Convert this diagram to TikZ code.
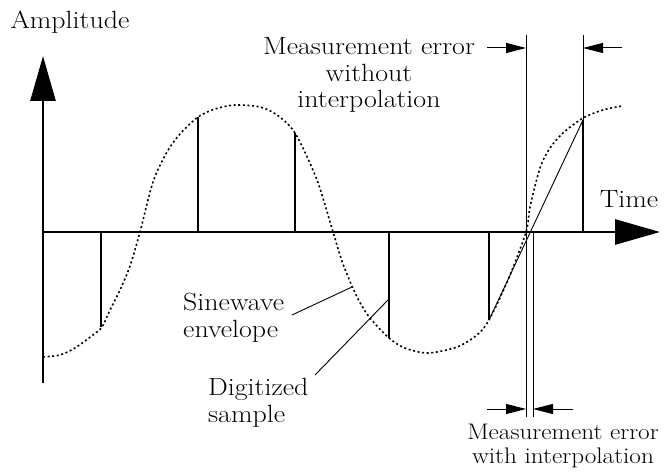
\documentclass[tikz,border=0pt]{standalone}
\usepackage{fontspec}
\setmainfont{Latin Modern Roman}[FakeStretch=1.12]
\usetikzlibrary{arrows.meta}
\begin{document}
\begin{tikzpicture}[x=1bp,y=-1bp,
  axis/.style={line width=2.8bp,-{Triangle[length=45bp,width=25bp]}},
  sample/.style={line width=2.4bp},
  thinline/.style={line width=0.9bp},
  envelope/.style={line width=1.6bp,dash pattern=on 2bp off 2.6bp},
  marker/.style={line width=1bp,-{Triangle[length=20bp,width=10bp]}},
  lbl/.style={inner sep=0pt,font=\fontsize{25}{27}\selectfont},
  smalllbl/.style={inner sep=0pt,font=\fontsize{22.6}{24}\selectfont}]
\useasboundingbox (0,0) rectangle (664,474);
% axes
\coordinate (Ybot) at (43,383);
\coordinate (Ytop) at (43,56);
\coordinate (O) at (43,232);
\coordinate (Xend) at (660,232);
\draw[axis] (Ybot) -- (Ytop);
\draw[axis] (O) -- (Xend);
% samples
\foreach \n/\x/\y in {1/101/327,2/198/117,3/295/133,4/389/338,5/489/320,6/583/120}{
  \coordinate (b\n) at (\x,232);
  \coordinate (t\n) at (\x,\y);
  \draw[sample] (b\n) -- (t\n);
}
% envelope
\draw[envelope] plot[smooth,tension=0.5] coordinates {
 (43,357) (60,355) (75,348) (93,335) (102,327) (110,310) (120,290) (130,266) (140,232)
 (153,182) (167,152) (180,134) (198,117) (215,109) (235,105) (260,107)
 (277,115) (295,133) (317,180) (333,232) (343,264) (357,297) (370,318)
 (389,338) (405,348) (428,353) (457,347) (477,335) (489,320) (508,280)
 (526,232) (530,207) (540,168) (550,148) (563,133) (583,118) (603,110) (622,106)};
% interpolation line
\coordinate (ix) at (533,232);
\draw[thinline] (t5) -- (t6);
% measurement lines
\coordinate (m1top) at (526,35);
\coordinate (m1bot) at (526,417);
\coordinate (m2bot) at (533,417);
\coordinate (m3top) at (583,35);
\draw[thinline] (m1top) -- (m1bot);
\draw[thinline] (ix) -- (m2bot);
\draw[thinline] (m3top) -- (b6);
% marker arrows
\coordinate (a1s) at (487,48);
\coordinate (a1e) at (526,48);
\coordinate (a2s) at (622,48);
\coordinate (a2e) at (583,48);
\coordinate (a3s) at (487,409);
\coordinate (a3e) at (526,409);
\coordinate (a4s) at (573,409);
\coordinate (a4e) at (533,409);
\draw[marker] (a1s) -- (a1e);
\draw[marker] (a2s) -- (a2e);
\draw[marker] (a3s) -- (a3e);
\draw[marker] (a4s) -- (a4e);
% labels
\node[lbl] (amp) at (70,22) {Amplitude};
\node[lbl] (time) at (629,199) {Time};
\node[lbl,align=center] (mwo) at (369,75) {Measurement error\\without\\interpolation};
\node[smalllbl,align=center] (mwi) at (563,446) {Measurement error\\with interpolation};
\node[lbl,align=left,anchor=west] (sine) at (183,318) {Sinewave\\envelope};
\node[lbl,align=left,anchor=west] (dig) at (208,403) {Digitized\\sample};
% leaders
\coordinate (ss) at (292,315);
\coordinate (se) at (352,287);
\coordinate (ds) at (315,375);
\coordinate (de) at (388,300);
\draw[thinline] (ss) -- (se);
\draw[thinline] (ds) -- (de);
\end{tikzpicture}
\end{document}
